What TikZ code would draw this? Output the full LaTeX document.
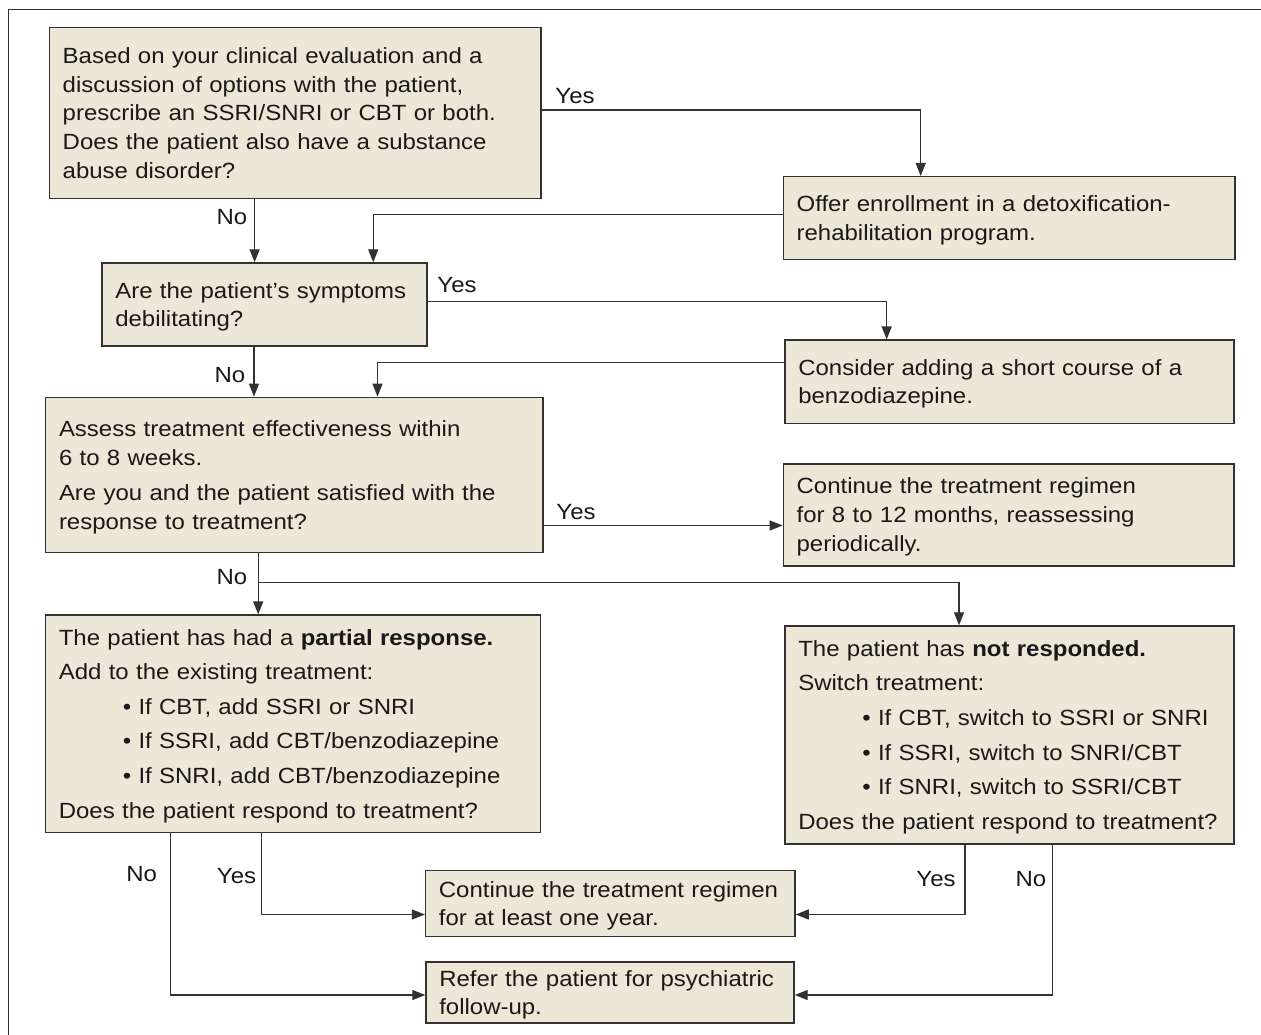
\documentclass[tikz,border=0pt]{standalone}
\usepackage{fontspec}
\setmainfont{Liberation Sans}[FakeStretch=1.09]
\usetikzlibrary{arrows.meta}
\definecolor{boxfill}{RGB}{236,231,215}
\definecolor{edge}{RGB}{50,50,50}
\definecolor{ink}{RGB}{25,25,25}
\newcommand{\oneline}[1]{\mbox{#1}}
\newcommand{\bulletline}[1]{\mbox{\hspace*{64pt}\textbullet\ #1}}
\begin{document}
\begin{tikzpicture}[x=1pt,y=-1pt,
  font=\fontsize{22}{28.6}\selectfont, text=ink,
  box/.style={draw=edge, fill=boxfill, line width=1.4pt, align=left,
    inner xsep=13.3pt, inner ysep=0pt, text height=15.8pt},
  lbl/.style={inner sep=0pt},
  conn/.style={draw=edge, line width=1.3pt},
  arr/.style={conn, -{Triangle[length=13pt,width=10pt]}}]
\useasboundingbox (0,0) rectangle (1261,1035);
\fill[white] (0,0) rectangle (1261,1035);
% frame (top and left sides)
\draw[line width=1.5pt, draw=edge] (1261,9.3) -- (8.7,9.3) -- (8.7,1035);

% boxes
\node[box, minimum width=491.6pt, text width=465pt, minimum height=170.6pt, text depth=114.4pt] (A) at (295.2,113)
 {\oneline{Based on your clinical evaluation and a}\\\oneline{discussion of options with the patient,}\\\oneline{prescribe an SSRI/SNRI or CBT or both.}\\\oneline{Does the patient also have a substance}\\\oneline{abuse disorder?}};
\node[box, minimum width=451.7pt, text width=425.1pt, minimum height=82.6pt, text depth=28.6pt] (B) at (1009.2,218)
 {\oneline{Offer enrollment in a detoxification-}\\\oneline{rehabilitation program.}};
\node[box, minimum width=325pt, text width=298.4pt, minimum height=83pt, text depth=28.6pt] (D) at (264.5,304.5)
 {\oneline{Are the patient’s symptoms}\\\oneline{debilitating?}};
\node[box, minimum width=449pt, text width=422.4pt, minimum height=83.3pt, text depth=28.6pt] (C) at (1009.5,381.7)
 {\oneline{Consider adding a short course of a}\\\oneline{benzodiazepine.}};
\node[box, minimum width=497.2pt, text width=470.6pt, minimum height=155.4pt, text depth=92.3pt] (E) at (294.3,475)
 {\oneline{Assess treatment effectiveness within}\\\oneline{6 to 8 weeks.}\\[6.5pt]\oneline{Are you and the patient satisfied with the}\\\oneline{response to treatment?}};
\node[box, minimum width=450.7pt, text width=424.1pt, minimum height=102pt, text depth=58pt] (F) at (1008.7,515)
 {\oneline{Continue the treatment regimen}\\[0.4pt]\oneline{for 8 to 12 months, reassessing}\\[0.4pt]\oneline{periodically.}};
\node[box, minimum width=495pt, text width=468.4pt, minimum height=217.3pt, text depth=173pt] (G) at (293,723.7)
 {\oneline{The patient has had a \textbf{partial response.}}\\[6pt]
  \oneline{Add to the existing treatment:}\\[6pt]
  \bulletline{If CBT, add SSRI or SNRI}\\[6pt]
  \bulletline{If SSRI, add CBT/benzodiazepine}\\[6pt]
  \bulletline{If SNRI, add CBT/benzodiazepine}\\[6pt]
  \oneline{Does the patient respond to treatment?}};
\node[box, minimum width=449pt, text width=422.4pt, minimum height=218pt, text depth=173.4pt] (H) at (1009.5,735)
 {\oneline{The patient has \textbf{not responded.}}\\[6pt]
  \oneline{Switch treatment:}\\[6pt]
  \bulletline{If CBT, switch to SSRI or SNRI}\\[6pt]
  \bulletline{If SSRI, switch to SNRI/CBT}\\[6pt]
  \bulletline{If SNRI, switch to SSRI/CBT}\\[6pt]
  \oneline{Does the patient respond to treatment?}};
\node[box, minimum width=369.5pt, text width=342.9pt, minimum height=66.2pt, text depth=28.6pt] (I) at (610.3,903.6)
 {\oneline{Continue the treatment regimen}\\\oneline{for at least one year.}};
\node[box, minimum width=368pt, text width=341.4pt, minimum height=61pt, text depth=28.6pt] (J) at (610,992.5)
 {\oneline{Refer the patient for psychiatric}\\\oneline{follow-up.}};

% labels
\node[lbl] (yA) at (575,96) {Yes};
\node[lbl] (nA) at (232,217) {No};
\node[lbl] (yD) at (457,285) {Yes};
\node[lbl] (nD) at (230,375) {No};
\node[lbl] (yE) at (576,512) {Yes};
\node[lbl] (nE) at (232,577) {No};
\node[lbl] (nG) at (141.7,874) {No};
\node[lbl] (yG) at (236.5,876) {Yes};
\node[lbl] (yH) at (936,879) {Yes};
\node[lbl] (nH) at (1031,879) {No};

% connectors
\draw[arr] ([yshift=3pt]A.east) -| (920.7,0 |- B.north);
\draw[arr] (254.6,0 |- A.south) -- (254.6,0 |- D.north);
\draw[arr] ([yshift=3.7pt]B.west) -| (373.2,0 |- D.north);
\draw[arr] ([yshift=2.8pt]D.east) -| (886.7,0 |- C.north);
\draw[arr] (254,0 |- D.south) -- (254,0 |- E.north);
\draw[arr] ([yshift=19pt]C.west) -| (377.5,0 |- E.north);
\draw[arr] ([yshift=-50.5pt]E.east) -- ([yshift=-50.5pt]E.east -| F.west);
\draw[arr] (258.2,0 |- E.south) -- (258.2,0 |- G.north);
\coordinate (split) at (258.2,582.7);
\draw[arr] (split) -| (959,0 |- H.north);
\draw[arr] (261.7,0 |- G.south) |- ([yshift=-10.9pt]I.west);
\draw[arr] (170.3,0 |- G.south) |- ([yshift=-2.5pt]J.west);
\draw[arr] (965,0 |- H.south) |- ([yshift=-10.9pt]I.east);
\draw[arr] (1052.7,0 |- H.south) |- ([yshift=-2.5pt]J.east);
\end{tikzpicture}
\end{document}
